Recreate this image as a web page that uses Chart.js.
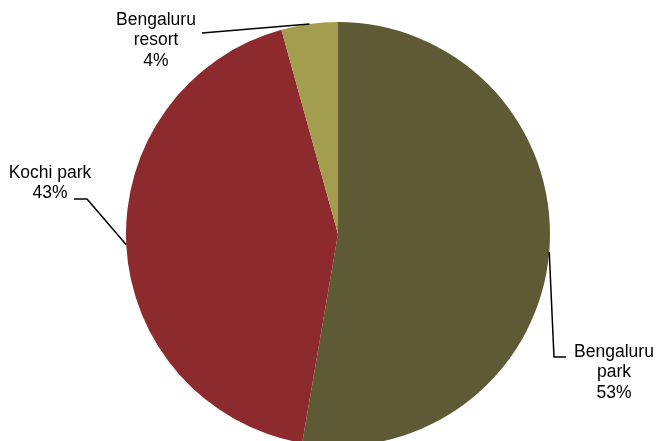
<!DOCTYPE html>
<html>
<head>
<meta charset="utf-8">
<script src="https://cdn.jsdelivr.net/npm/chart.js@4/dist/chart.umd.min.js"></script>
<style>
  html, body { margin: 0; padding: 0; background: #fff; }
  #wrap { width: 656px; height: 441px; }
</style>
</head>
<body>
<div id="wrap"><canvas id="pieChart" width="656" height="441"></canvas></div>
<script>
// Data (slice sizes, labels as printed)
const sites = ["Bengaluru park", "Kochi park", "Bengaluru resort"];
const shares = [52.7, 43.0, 4.3];
const labelLines = [["Bengaluru", "park", "53%"], ["Kochi park", "43%"], ["Bengaluru", "resort", "4%"]];

const sliceColors = ["#5E5A35", "#8D2A2D", "#A39D4F"];

// where each label's text sits and where the leader line bends
const labelLayout = [
  { textX: 614, textY: 352, bend: [[554, 357], [566, 357]] },
  { textX: 50, textY: 173, bend: [[87, 199], [74, 199]] },
  { textX: 156, textY: 20, bend: [[202, 33]] },
];

const calloutPlugin = {
  id: "callouts",
  afterDraw(chart) {
    const ctx = chart.ctx;
    const arcs = chart.getDatasetMeta(0).data;
    ctx.save();
    ctx.font = "17.5px 'Liberation Sans', Arial, sans-serif";
    ctx.fillStyle = "#000";
    ctx.strokeStyle = "#000";
    ctx.lineWidth = 1.5;
    ctx.textAlign = "center";
    ctx.textBaseline = "middle";
    arcs.forEach((arc, i) => {
      const p = arc.getProps(["x", "y", "startAngle", "endAngle", "outerRadius"], true);
      const mid = (p.startAngle + p.endAngle) / 2;
      const sx = p.x + Math.cos(mid) * p.outerRadius;
      const sy = p.y + Math.sin(mid) * p.outerRadius;
      const lay = labelLayout[i];
      ctx.beginPath();
      ctx.moveTo(sx, sy);
      lay.bend.forEach(([bx, by]) => ctx.lineTo(bx, by));
      ctx.stroke();
      labelLines[i].forEach((t, j) => {
        ctx.fillText(t, lay.textX, lay.textY + j * 20.5);
      });
    });
    ctx.restore();
  },
};

new Chart(document.getElementById("pieChart").getContext("2d"), {
  type: "pie",
  data: {
    labels: sites,
    datasets: [
      {
        data: shares,
        backgroundColor: sliceColors,
        borderWidth: 0,
        radius: 212,
      },
    ],
  },
  options: {
    responsive: false,
    animation: false,
    layout: { padding: { left: 20, top: 27, right: 0, bottom: 0 } },
    plugins: {
      legend: { display: false },
      tooltip: { enabled: false },
    },
  },
  plugins: [calloutPlugin],
});
</script>
</body>
</html>
